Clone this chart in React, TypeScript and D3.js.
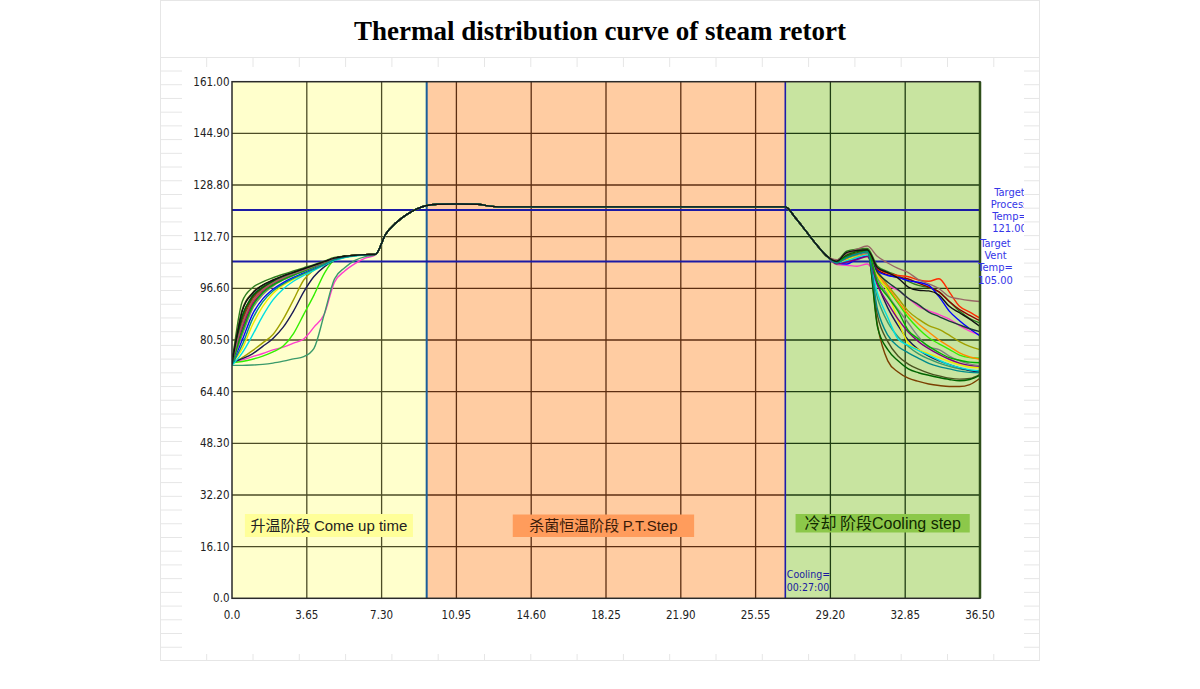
import React from 'react';
import * as d3 from 'd3';

const TITLE = 'Thermal distribution curve of steam retort';
const X_TICKS = [0, 3.65, 7.3, 10.95, 14.6, 18.25, 21.9, 25.55, 29.2, 32.85, 36.5];
const X_LABELS = ['0.0', '3.65', '7.30', '10.95', '14.60', '18.25', '21.90', '25.55', '29.20', '32.85', '36.50'];
const Y_TICKS = [0, 16.1, 32.2, 48.3, 64.4, 80.5, 96.6, 112.7, 128.8, 144.9, 161];
const Y_LABELS = ['0.0', '16.10', '32.20', '48.30', '64.40', '80.50', '96.60', '112.70', '128.80', '144.90', '161.00'];
const PHASE_BOUNDS = [0, 9.5, 27, 36.5];
const PHASE_NAMES_CN = ['升温阶段 ', '杀菌恒温阶段 ', '冷却 阶段'];
const PHASE_NAMES_EN = ['Come up time', 'P.T.Step', 'Cooling step'];
const TARGET_PROCESS = 121;
const TARGET_VENT = 105;
const COOLING_LABEL = ['Cooling=', '00:27:00'];
const PROCESS_LABEL = ['Target', 'Process', 'Temp=', '121.00'];
const VENT_LABEL = ['Target', 'Vent', 'Temp=', '105.00'];

// heating phase sample times (min)
const HEAT_T = [0, 0.5, 1, 1.5, 2, 2.5, 3, 3.5, 4, 4.5, 5, 5.5, 6, 6.5, 7];
// shared portion (all probes overlap)
const HOLD_T = [7.5, 8, 8.5, 9, 9.5, 10, 11, 12, 12.5, 13, 27, 27.5, 28, 28.5, 29];
const HOLD_V = [113.5, 117, 119.5, 121.3, 122.4, 122.8, 122.9, 122.8, 122.3, 122, 122, 118.5, 114.5, 110.4, 106.8];
// cooling phase sample times
const COOL_T = [29.5, 30, 30.5, 31, 31.5, 32, 32.5, 33, 33.5, 34, 34.5, 35, 35.5, 36, 36.5];

const SERIES_COLORS = [
  '#ff3dcc', '#3a9a6a', '#33ee00', '#a0a000', '#1a1a55',
  '#2d7d1e', '#8b0000', '#ff2a00', '#ff8c00', '#7b3f00',
  '#0000ff', '#eeee00', '#00e0e0', '#4b5320', '#1c3a3a',
  '#800080', '#808080', '#006400', '#00b000', '#996666',
  '#008b8b', '#111111',
];

const HEAT_VALUES = [
  [73.7, 74.3, 75.3, 76.3, 77.4, 78.3, 79.5, 80.8, 84.5, 88.5, 98.5, 102.0, 104.3, 106.0, 107.0],
  [72.6, 72.6, 72.7, 72.9, 73.3, 73.9, 74.6, 75.3, 77.9, 88.5, 99.5, 103.0, 105.3, 106.5, 107.1],
  [73.4, 73.8, 74.5, 75.5, 76.8, 78.6, 82.5, 88.5, 94.5, 101.2, 105.5, 106.4, 106.8, 107.0, 107.2],
  [73.2, 75.0, 77.2, 79.6, 82.2, 87.0, 93.0, 99.2, 102.3, 104.0, 105.6, 106.4, 106.9, 107.1, 107.2],
  [73.5, 74.7, 76.2, 78.5, 81.0, 84.5, 89.5, 95.5, 100.3, 103.3, 105.3, 106.3, 106.8, 107.0, 107.2],
  [73.2, 92.5, 96.8, 98.6, 99.9, 101.0, 102.0, 103.0, 104.0, 105.1, 106.2, 106.6, 106.9, 107.1, 107.2],
  [72.8, 86.0, 93.2, 96.5, 98.5, 100.0, 101.2, 102.4, 103.6, 104.8, 105.9, 106.5, 106.9, 107.1, 107.2],
  [73.5, 85.0, 92.4, 96.0, 98.2, 99.8, 101.0, 102.2, 103.4, 104.7, 105.9, 106.5, 106.9, 107.1, 107.2],
  [73.3, 83.5, 91.3, 95.3, 97.8, 99.5, 100.8, 102.0, 103.3, 104.6, 105.8, 106.5, 106.9, 107.1, 107.2],
  [74.2, 87.0, 93.8, 96.9, 98.8, 100.2, 101.4, 102.5, 103.6, 104.8, 106.0, 106.6, 106.9, 107.1, 107.2],
  [73.0, 80.5, 88.5, 93.3, 96.3, 98.4, 100.0, 101.4, 102.8, 104.2, 105.6, 106.4, 106.8, 107.0, 107.2],
  [73.3, 77.8, 85.2, 91.0, 95.0, 97.6, 99.4, 101.0, 102.5, 104.0, 105.4, 106.3, 106.8, 107.0, 107.2],
  [72.6, 76.5, 82.0, 88.0, 93.0, 96.4, 98.8, 100.6, 102.2, 103.8, 105.3, 106.2, 106.7, 107.0, 107.2],
  [73.8, 90.0, 95.2, 97.6, 99.1, 100.4, 101.5, 102.6, 103.7, 104.9, 106.0, 106.6, 106.9, 107.1, 107.2],
  [74.0, 87.8, 94.3, 97.0, 98.9, 100.3, 101.4, 102.5, 103.6, 104.8, 106.0, 106.6, 106.9, 107.1, 107.2],
  [73.1, 84.0, 91.6, 95.5, 97.8, 99.5, 100.9, 102.1, 103.4, 104.7, 105.9, 106.5, 106.9, 107.1, 107.2],
  [72.9, 82.0, 90.2, 94.6, 97.3, 99.2, 100.6, 101.9, 103.2, 104.5, 105.8, 106.5, 106.9, 107.1, 107.2],
  [73.6, 88.0, 94.0, 96.9, 98.7, 100.1, 101.3, 102.4, 103.5, 104.7, 105.9, 106.6, 106.9, 107.1, 107.2],
  [73.0, 83.0, 91.0, 95.2, 97.6, 99.3, 100.7, 102.0, 103.3, 104.6, 105.8, 106.5, 106.9, 107.1, 107.2],
  [73.4, 85.5, 92.8, 96.2, 98.3, 99.9, 101.1, 102.3, 103.5, 104.7, 105.9, 106.5, 106.9, 107.1, 107.2],
  [72.8, 79.0, 87.0, 92.4, 95.8, 98.0, 99.7, 101.2, 102.6, 104.0, 105.5, 106.3, 106.8, 107.0, 107.2],
  [73.0, 89.5, 95.0, 97.6, 99.2, 100.5, 101.6, 102.7, 103.8, 104.9, 106.0, 106.6, 106.9, 107.1, 107.2],
];

const COOL_VALUES = [
  [104.0, 103.8, 103.5, 104.2, 99.8, 97.5, 96.0, 93.5, 91.0, 89.6, 88.4, 87.0, 85.0, 83.3, 82.1],
  [104.4, 105.8, 106.8, 107.5, 93.5, 86.0, 81.5, 78.5, 76.2, 74.6, 73.3, 72.3, 71.5, 71.0, 70.9],
  [104.6, 106.0, 107.0, 107.5, 100.0, 96.3, 92.0, 87.5, 84.0, 81.2, 79.3, 77.6, 75.8, 75.0, 74.8],
  [104.3, 105.0, 106.0, 107.0, 102.0, 97.5, 93.5, 89.5, 87.0, 85.0, 83.8, 82.0, 80.0, 78.5, 77.5],
  [104.7, 106.6, 107.5, 108.1, 98.0, 90.5, 85.0, 80.5, 77.5, 75.5, 74.0, 72.8, 71.8, 71.0, 70.6],
  [105.3, 108.2, 108.8, 109.0, 103.5, 101.8, 100.5, 98.8, 97.5, 96.8, 95.5, 92.5, 89.5, 87.2, 85.8],
  [104.9, 106.0, 107.5, 108.2, 102.5, 100.8, 100.0, 99.5, 98.2, 97.0, 95.5, 92.5, 90.0, 88.2, 86.5],
  [104.8, 105.5, 106.5, 107.5, 102.8, 101.3, 100.6, 100.2, 99.2, 98.8, 99.6, 95.5, 91.0, 89.2, 87.3],
  [104.5, 105.3, 106.5, 107.4, 101.0, 97.0, 92.5, 88.5, 85.5, 83.0, 80.5, 78.5, 76.5, 75.2, 74.5],
  [104.8, 106.8, 107.6, 108.0, 85.0, 74.0, 70.5, 68.6, 67.6, 66.8, 66.3, 66.0, 66.0, 66.6, 68.6],
  [104.5, 104.2, 105.8, 106.7, 102.0, 100.6, 100.0, 99.0, 98.5, 97.5, 94.0, 89.5, 86.5, 84.0, 81.8],
  [104.2, 105.5, 106.8, 107.8, 100.5, 95.5, 86.5, 79.5, 77.5, 76.2, 75.0, 73.8, 72.8, 72.1, 71.9],
  [104.3, 105.2, 106.2, 107.0, 95.0, 87.5, 80.8, 78.8, 77.2, 75.8, 74.2, 72.8, 71.9, 71.2, 70.8],
  [105.1, 107.5, 108.3, 108.7, 88.0, 80.0, 75.5, 73.0, 71.4, 70.2, 69.3, 68.6, 68.3, 68.5, 69.8],
  [104.6, 106.5, 107.2, 107.6, 101.5, 98.5, 96.2, 93.5, 91.5, 89.2, 87.8, 86.4, 85.2, 84.0, 83.1],
  [104.2, 104.8, 105.6, 106.5, 97.5, 92.0, 87.0, 83.0, 80.0, 77.8, 76.0, 74.5, 73.3, 72.6, 72.3],
  [104.7, 106.0, 107.0, 107.6, 99.5, 94.5, 90.0, 85.8, 81.5, 78.3, 77.5, 75.5, 74.0, 73.0, 72.5],
  [104.9, 107.0, 108.0, 108.5, 84.5, 77.5, 74.0, 71.5, 70.3, 69.5, 68.8, 68.2, 67.8, 68.2, 69.5],
  [104.8, 106.3, 107.3, 108.2, 98.5, 94.0, 89.5, 83.5, 80.8, 78.5, 76.6, 75.0, 74.2, 73.6, 73.4],
  [105.5, 107.5, 108.8, 109.8, 106.5, 104.5, 102.8, 101.5, 99.3, 98.0, 96.5, 94.0, 93.3, 92.8, 92.5],
  [104.5, 106.2, 107.3, 108.0, 90.0, 82.0, 78.5, 76.5, 74.8, 73.2, 72.2, 71.5, 70.8, 70.4, 70.3],
  [105.0, 107.8, 108.4, 108.6, 103.0, 101.5, 99.8, 97.0, 96.0, 95.8, 94.5, 91.0, 89.0, 87.0, 84.7],
];

const PHASE_FILLS = ['#ffffcc', '#ffcca2', '#c8e4a0'];
const PHASE_GRID = ['#4d4d26', '#5c2e12', '#1f3d12'];
const LABEL_FILLS = ['#ffff99', '#ff9c5c', '#8cc84a'];
const LABEL_TEXT = ['#222', '#3a1a08', '#102800'];

const TICK_FONT = '"Liberation Sans Narrow", "DejaVu Sans Condensed", "Arial Narrow", sans-serif';

export default function App() {
  const W = 1200, H = 689;
  const left = 232, right = 980, top = 81.7, bottom = 598.3;
  const x = d3.scaleLinear().domain([0, 36.5]).range([left, right]);
  const y = d3.scaleLinear().domain([0, 161]).range([bottom, top]);

  const allT = [...HEAT_T, ...HOLD_T, ...COOL_T];
  const series = SERIES_COLORS.map((c, i) => ({
    color: c,
    pts: allT.map((t, k) => [t, [...HEAT_VALUES[i], ...HOLD_V, ...COOL_VALUES[i]][k]] as [number, number]),
  }));
  const line = d3.line<[number, number]>()
    .x((d) => x(d[0]))
    .y((d) => y(d[1]))
    .curve(d3.curveMonotoneX);

  const sheetCols = d3.range(18).map((k) => 206.7 + k * 46.3);
  const sheetRows = d3.range(43).map((k) => 71 + k * 13.72);

  const phaseOf = (t: number) => (t < PHASE_BOUNDS[1] ? 0 : t < PHASE_BOUNDS[2] ? 1 : 2);

  const labelBoxes = [
    { x0: x(0.63), x1: x(8.83), y0: 514, y1: 537, fs: 15 },
    { x0: x(13.7), x1: x(22.55), y0: 514.5, y1: 537, fs: 15 },
    { x0: x(27.5), x1: x(36.0), y0: 514, y1: 532.5, fs: 16 },
  ];

  return (
    <svg width={W} height={H} style={{ position: 'absolute', left: 0, top: 0, background: '#fff' }}>
      <defs>
        <clipPath id="plotClip">
          <rect x={left} y={top} width={right - left} height={bottom - top} />
        </clipPath>
        <clipPath id="rightClip">
          <rect x={960} y={170} width={64} height={130} />
        </clipPath>
      </defs>
      {/* spreadsheet background */}
      <g stroke="#e6e6e6" strokeWidth={1} fill="none">
        <rect x={160.5} y={0.5} width={879} height={660} />
        <line x1={160} x2={1040} y1={57.5} y2={57.5} />
        {sheetCols.map((cx, i) => (
          <line key={'c' + i} x1={cx} x2={cx} y1={57.5} y2={67} />
        ))}
        {sheetCols.map((cx, i) => (
          <line key={'cb' + i} x1={cx} x2={cx} y1={654} y2={660.5} />
        ))}
        {sheetRows.map((ry, i) => (
          <g key={'r' + i}>
            <line x1={160} x2={182} y1={ry} y2={ry} />
            <line x1={1024} x2={1040} y1={ry} y2={ry} />
          </g>
        ))}
      </g>

      <text x={600} y={40} textAnchor="middle" fontFamily='"Liberation Serif", "Times New Roman", serif'
        fontWeight="bold" fontSize={27} fill="#000">{TITLE}</text>

      {/* phase backgrounds */}
      {PHASE_FILLS.map((f, i) => (
        <rect key={'ph' + i} x={x(PHASE_BOUNDS[i])} y={top} width={x(PHASE_BOUNDS[i + 1]) - x(PHASE_BOUNDS[i])}
          height={bottom - top} fill={f} />
      ))}
      {/* horizontal grid per phase */}
      {PHASE_FILLS.map((_, i) => (
        <g key={'hg' + i}>
          {Y_TICKS.slice(1, -1).map((v, k) => (
            <line key={k} x1={x(PHASE_BOUNDS[i])} x2={x(PHASE_BOUNDS[i + 1])} y1={y(v)} y2={y(v)}
              stroke={PHASE_GRID[i]} strokeWidth={1.3} />
          ))}
        </g>
      ))}
      {/* vertical grid */}
      {X_TICKS.slice(1, -1).map((t, k) => (
        <line key={'vg' + k} x1={x(t)} x2={x(t)} y1={top} y2={bottom} stroke={PHASE_GRID[phaseOf(t)]} strokeWidth={1.3} />
      ))}
      {/* phase boundaries */}
      <line x1={x(PHASE_BOUNDS[1])} x2={x(PHASE_BOUNDS[1])} y1={top} y2={bottom} stroke="#1b5e9a" strokeWidth={2} />
      <line x1={x(PHASE_BOUNDS[2])} x2={x(PHASE_BOUNDS[2])} y1={top} y2={bottom} stroke="#1c1caa" strokeWidth={1.6} />

      {/* target lines */}
      {[TARGET_PROCESS, TARGET_VENT].map((v, i) => (
        <line key={'tg' + i} x1={left} x2={right} y1={y(v)} y2={y(v)} stroke="#1a1aa6" strokeWidth={2} />
      ))}

      {/* phase labels */}
      {labelBoxes.map((b, i) => (
        <g key={'lb' + i}>
          <rect x={b.x0} y={b.y0} width={b.x1 - b.x0} height={b.y1 - b.y0} fill={LABEL_FILLS[i]} />
          <text x={(b.x0 + b.x1) / 2} y={(b.y0 + b.y1) / 2 + b.fs * 0.36} textAnchor="middle" fontSize={b.fs} fill={LABEL_TEXT[i]}>
            <tspan fontFamily='"Noto Sans CJK SC", sans-serif'>{PHASE_NAMES_CN[i]}</tspan>
            <tspan fontFamily='"Liberation Sans", Arial, sans-serif'>{PHASE_NAMES_EN[i]}</tspan>
          </text>
        </g>
      ))}

      {/* data lines */}
      <g clipPath="url(#plotClip)" fill="none">
        {series.map((s, i) => (
          <path key={'s' + i} d={line(s.pts) || ''} stroke={s.color} strokeWidth={1.4} />
        ))}
      </g>

      {/* cooling text */}
      {COOLING_LABEL.map((t, i) => (
        <text key={'cl' + i} x={x(PHASE_BOUNDS[2]) + 1.5} y={578 + i * 13} fontSize={10.5} fill="#1a1aa0"
          fontFamily={TICK_FONT}>{t}</text>
      ))}

      {/* frame */}
      <rect x={left} y={top} width={right - left} height={bottom - top} fill="none" stroke="#2a2a2a" strokeWidth={1.5} />
      <line x1={right} x2={right} y1={top} y2={bottom} stroke="#2f4f1a" strokeWidth={2.5} />

      {/* axis labels */}
      {Y_TICKS.map((v, i) => (
        <text key={'yl' + i} x={229.5} y={y(v) + 4} textAnchor="end" fontSize={11.5} fill="#222" fontFamily={TICK_FONT}>
          {Y_LABELS[i]}
        </text>
      ))}
      {X_TICKS.map((t, i) => (
        <text key={'xl' + i} x={x(t)} y={619} textAnchor="middle" fontSize={11.5} fill="#222" fontFamily={TICK_FONT}>
          {X_LABELS[i]}
        </text>
      ))}

      {/* right target labels */}
      <g clipPath="url(#rightClip)" fontFamily={TICK_FONT} fontSize={11} fill="#3535e8" textAnchor="middle">
        {PROCESS_LABEL.map((t, i) => (
          <text key={'pl' + i} x={1009.5} y={195.5 + i * 12} >{t}</text>
        ))}
        {VENT_LABEL.map((t, i) => (
          <text key={'vl' + i} x={995.5} y={246.5 + i * 12.4} >{t}</text>
        ))}
      </g>
    </svg>
  );
}
